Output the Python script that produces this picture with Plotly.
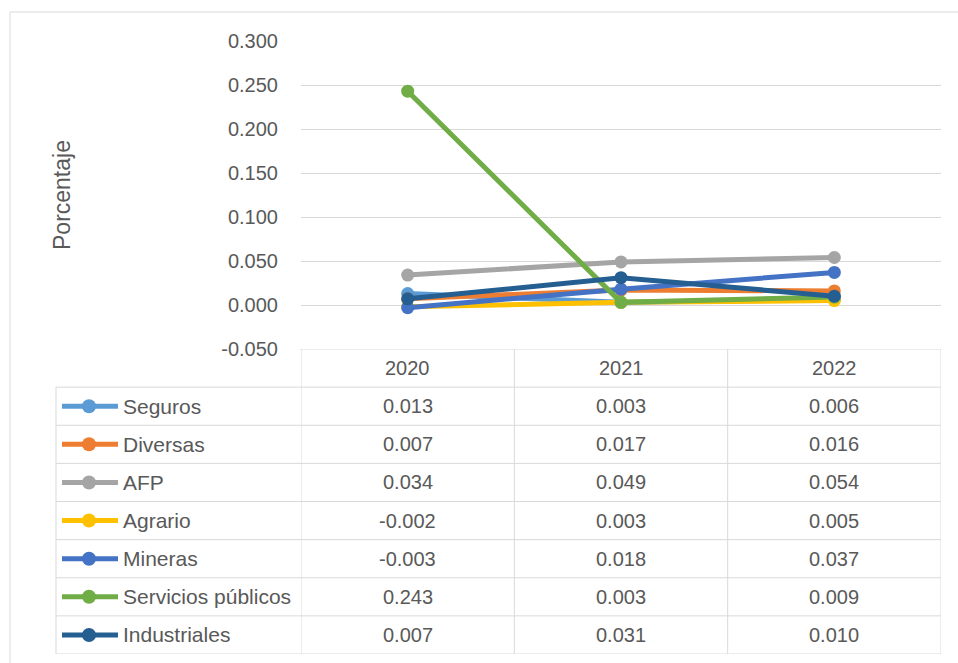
import plotly.graph_objects as go

years = ["2020", "2021", "2022"]
series_names = ["Seguros", "Diversas", "AFP", "Agrario", "Mineras", "Servicios públicos", "Industriales"]
seguros = [0.013, 0.003, 0.006]
diversas = [0.007, 0.017, 0.016]
afp = [0.034, 0.049, 0.054]
agrario = [-0.002, 0.003, 0.005]
mineras = [-0.003, 0.018, 0.037]
servicios = [0.243, 0.003, 0.009]
industriales = [0.007, 0.031, 0.010]
series_values = [seguros, diversas, afp, agrario, mineras, servicios, industriales]
colors = ["#5B9BD5", "#ED7D31", "#A5A5A5", "#FFC000", "#4472C4", "#70AD47", "#255E91"]
y_tick_values = [-0.05, 0.0, 0.05, 0.10, 0.15, 0.20, 0.25, 0.30]
y_tick_labels = ["-0.050", "0.000", "0.050", "0.100", "0.150", "0.200", "0.250", "0.300"]
y_title = "Porcentaje"

W, H = 958, 663
FONT = "Liberation Sans"
TXT = "#595959"
GRID = "#d9d9d9"

def px(x):
    return x / W

def py(y):
    return 1 - y / H

fig = go.Figure()

# main chart lines
for name, vals, col in zip(series_names, series_values, colors):
    fig.add_trace(go.Scatter(
        x=years, y=vals, name=name, mode="lines+markers",
        line=dict(color=col, width=5),
        marker=dict(color=col, size=13),
        xaxis="x", yaxis="y", cliponaxis=False, hoverinfo="skip"))

# legend keys in the data table
for i, (name, col) in enumerate(zip(series_names, colors)):
    fig.add_trace(go.Scatter(
        x=[62, 118], y=[i + 1] * 2, mode="lines",
        line=dict(color=col, width=5),
        xaxis="x2", yaxis="y2", showlegend=False, hoverinfo="skip"))
    fig.add_trace(go.Scatter(
        x=[89], y=[i + 1], mode="markers",
        marker=dict(color=col, size=14),
        xaxis="x2", yaxis="y2", showlegend=False, hoverinfo="skip"))

shapes = []
# outer chart border (only left and top edges are inside the picture)
shapes.append(dict(type="line", xref="paper", yref="paper",
                   x0=px(10), x1=px(10), y0=py(663), y1=py(12),
                   line=dict(color=GRID, width=1), layer="below"))
shapes.append(dict(type="line", xref="paper", yref="paper",
                   x0=px(10), x1=1, y0=py(12), y1=py(12),
                   line=dict(color=GRID, width=1), layer="below"))
# table horizontal lines
shapes.append(dict(type="line", xref="x2", yref="y2", x0=300, x1=941, y0=-0.5, y1=-0.5,
                   line=dict(color=GRID, width=1)))
for k in range(1, len(series_names) + 2):
    shapes.append(dict(type="line", xref="x2", yref="y2", x0=56, x1=941,
                       y0=k - 0.5, y1=k - 0.5, line=dict(color=GRID, width=1)))
# table vertical lines
shapes.append(dict(type="line", xref="x2", yref="y2", x0=56, x1=56, y0=0.5,
                   y1=len(series_names) + 0.5, line=dict(color=GRID, width=1)))
for c in range(len(years) + 1):
    shapes.append(dict(type="line", xref="x", yref="y2", x0=c - 0.5, x1=c - 0.5,
                       y0=-0.5, y1=len(series_names) + 0.5,
                       line=dict(color=GRID, width=1)))

annotations = []
for j, yr in enumerate(years):
    annotations.append(dict(xref="x", yref="y2", x=j, y=0, text=yr, showarrow=False,
                            font=dict(family=FONT, size=20, color=TXT)))
for i, (name, vals) in enumerate(zip(series_names, series_values)):
    annotations.append(dict(xref="x2", yref="y2", x=121, y=i + 1, text=name,
                            xanchor="left", showarrow=False,
                            font=dict(family=FONT, size=21, color=TXT)))
    for j, v in enumerate(vals):
        annotations.append(dict(xref="x", yref="y2", x=j, y=i + 1, text=f"{v:.3f}",
                                showarrow=False,
                                font=dict(family=FONT, size=20, color=TXT)))
annotations.append(dict(xref="paper", yref="paper", x=px(62), y=py(195), text=y_title,
                        textangle=-90, showarrow=False, xanchor="center", yanchor="middle",
                        font=dict(family=FONT, size=23, color=TXT)))

fig.update_layout(
    width=W, height=H,
    autosize=False,
    margin=dict(l=0, r=0, t=0, b=0, pad=0, autoexpand=False),
    paper_bgcolor="white", plot_bgcolor="white",
    showlegend=False,
    font=dict(family=FONT, size=20, color=TXT),
    xaxis=dict(domain=[px(301), px(941)], type="category", range=[-0.5, 2.5],
               showticklabels=False, showgrid=False, zeroline=False, showline=False,
               ticks="", anchor="y", automargin=False),
    yaxis=dict(domain=[py(349), py(41)], range=[-0.05, 0.30],
               tickvals=y_tick_values, ticktext=y_tick_labels,
               showgrid=True, gridcolor=GRID, gridwidth=1,
               zeroline=False, showline=False, ticks="", ticklabelstandoff=22,
               tickfont=dict(family=FONT, size=20, color=TXT), anchor="x",
               automargin=False),
    xaxis2=dict(domain=[0, 1], range=[0, W], visible=False, anchor="y2", automargin=False),
    yaxis2=dict(domain=[py(654), py(349)], range=[len(series_names) + 0.5, -0.5],
                visible=False, anchor="x2", automargin=False),
    shapes=shapes,
    annotations=annotations,
)

fig.write_html("out.html")
